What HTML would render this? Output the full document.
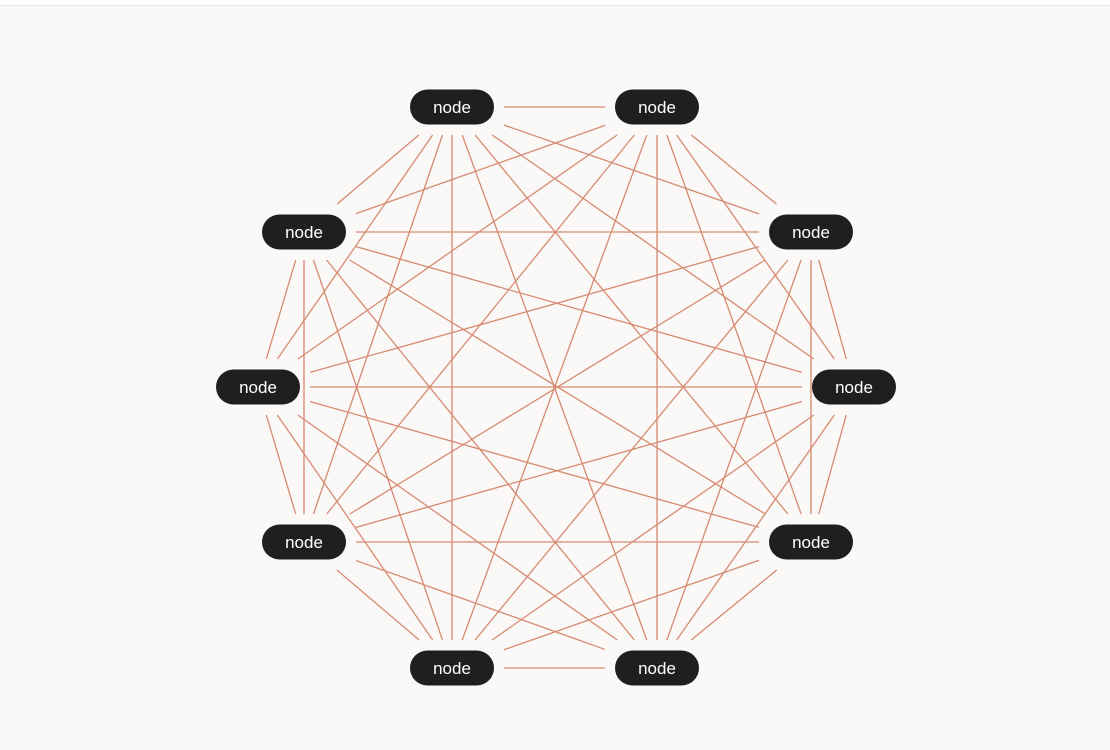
<!DOCTYPE html>
<html><head><meta charset="utf-8"><style>
html,body{margin:0;padding:0;width:1110px;height:750px;background:#fbf8f8;overflow:hidden}
#top{position:absolute;left:0;top:0;width:1110px;height:5px;background:#fff;border-bottom:1px solid #e8e6e8}
svg{position:absolute;left:0;top:0}
text{font-family:"Liberation Sans",sans-serif;font-size:17px;fill:#fff}
</style></head><body>
<div id="top"></div>
<svg id="s" width="1110" height="750" xmlns="http://www.w3.org/2000/svg"></svg>
<script>
var N=[[452,107],[657,107],[811,232],[854,387],[811,542],[657,668],[452,668],[304,542],[258,387],[304,232]];
var s=document.getElementById('s'),h='';
var hw=52,hh=28;
for(var i=0;i<N.length;i++)for(var j=i+1;j<N.length;j++){
 var a=N[i],b=N[j],dx=b[0]-a[0],dy=b[1]-a[1];
 var t=Math.min(dx?hw/Math.abs(dx):9,dy?hh/Math.abs(dy):9);
 h+='<line x1="'+(a[0]+dx*t)+'" y1="'+(a[1]+dy*t)+'" x2="'+(b[0]-dx*t)+'" y2="'+(b[1]-dy*t)+'" stroke="#d68a70" stroke-width="1.3"/>';
}
for(var k=0;k<N.length;k++){var p=N[k];
 h+='<rect x="'+(p[0]-42)+'" y="'+(p[1]-17.5)+'" width="84" height="35" rx="17.5" fill="#211e1f"/>';
 h+='<text x="'+p[0]+'" y="'+(p[1]+6)+'" text-anchor="middle">node</text>';}
s.innerHTML=h;
</script>
</body></html>
